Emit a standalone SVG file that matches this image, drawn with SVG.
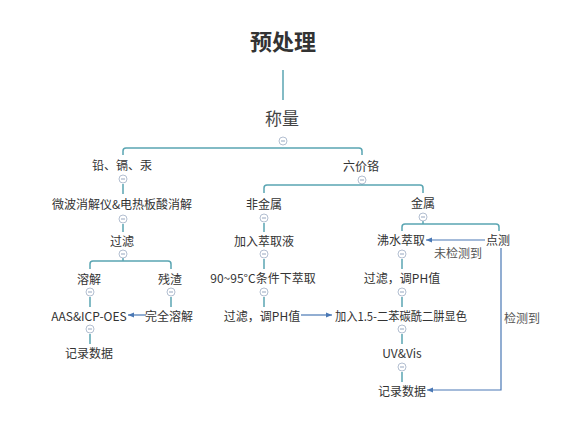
<svg xmlns="http://www.w3.org/2000/svg" width="576" height="435" viewBox="0 0 576 435">
<defs>
<marker id="ah" viewBox="0 0 10 10" refX="10" refY="5" markerWidth="8" markerHeight="6" orient="auto" markerUnits="userSpaceOnUse">
<path d="M0,1 L10,5 L0,9 Z" fill="#4a78b5"/>
</marker>
<g id="col"><circle r="4" fill="#fff" stroke="#aab8cc" stroke-width="0.9"/><line x1="-2" y1="0" x2="2" y2="0" stroke="#8a9cb8" stroke-width="0.9"/></g>
</defs>
<style>
text{font-family:"Noto Sans CJK SC","Liberation Sans",sans-serif;fill:#333;text-anchor:middle;dominant-baseline:central}
.n{font-size:12px}
.t{font-size:22px;font-weight:bold}
.w{font-size:17px;fill:#444}
.lab{font-size:12px;fill:#555}
.tl{fill:none;stroke:#5aa5b2;stroke-width:1.5}
.ar{fill:none;stroke:#4a78b5;stroke-width:1.2;marker-end:url(#ah)}
</style>
<rect width="576" height="435" fill="#fff"/>
<g id="connectors">
<path class="tl" d="M283,70 V100" stroke-width="1.2"/>
<path class="tl" d="M123,155 V151 Q123,148 126,148 H359 Q362,148 362,151 V155"/>
<path class="tl" d="M123,184 V194"/>
<path class="tl" d="M123,224 V232"/>
<path class="tl" d="M123,258 V261 M90,269 V264 Q90,261 93,261 H168 Q171,261 171,264 V269"/>
<path class="tl" d="M90,297 V307"/>
<path class="tl" d="M171,297 V307"/>
<path class="tl" d="M90,334 V344"/>
<path class="tl" d="M362,184 V185 M264,193 V188 Q264,185 267,185 H420 Q423,185 423,188 V193"/>
<path class="tl" d="M264,223 V232"/>
<path class="tl" d="M264,259 V269"/>
<path class="tl" d="M264,297 V307"/>
<path class="tl" d="M423,221 V224 M402,231 V227 Q402,224 405,224 H496 Q499,224 499,227 V231"/>
<path class="tl" d="M402,259 V269"/>
<path class="tl" d="M402,297 V307"/>
<path class="tl" d="M402,334 V344"/>
<path class="tl" d="M402,372 V382"/>
<path class="ar" d="M146,315 H128"/>
<path class="ar" d="M301,315 H332"/>
<path class="ar" d="M485,240 H426"/>
<path class="ar" d="M501,248 V390 H427"/>
<text class="lab" x="458" y="252">未检测到</text>
<text class="lab" x="522" y="317">检测到</text>
</g>
<g id="n-title"><text class="t" x="283" y="40">预处理</text></g>
<g id="n-weigh"><text class="w" x="282" y="117">称量</text><use href="#col" x="283" y="141"/></g>
<g id="n-pb"><text class="n" x="122" y="164">铅、镉、汞</text><use href="#col" x="123" y="179"/></g>
<g id="n-mw"><text class="n" x="122" y="203">微波消解仪&amp;电热板酸消解</text><use href="#col" x="123" y="219"/></g>
<g id="n-filter1"><text class="n" x="122" y="240">过滤</text><use href="#col" x="123" y="254"/></g>
<g id="n-dissolve"><text class="n" x="89" y="278">溶解</text><use href="#col" x="90" y="292"/></g>
<g id="n-residue"><text class="n" x="170" y="278">残渣</text><use href="#col" x="171" y="292"/></g>
<g id="n-aas"><text class="n" x="89" y="315">AAS&amp;ICP-OES</text><use href="#col" x="90" y="329"/></g>
<g id="n-full"><text class="n" x="169" y="315">完全溶解</text></g>
<g id="n-rec1"><text class="n" x="89" y="352">记录数据</text></g>
<g id="n-cr"><text class="n" x="361" y="165">六价铬</text><use href="#col" x="362" y="180"/></g>
<g id="n-nonmetal"><text class="n" x="264" y="203">非金属</text><use href="#col" x="264" y="218"/></g>
<g id="n-add"><text class="n" x="264" y="240">加入萃取液</text><use href="#col" x="264" y="254"/></g>
<g id="n-90"><text class="n" x="263" y="277">90~95°C条件下萃取</text><use href="#col" x="264" y="292"/></g>
<g id="n-ph1"><text class="n" x="262" y="315">过滤，调PH值</text></g>
<g id="n-metal"><text class="n" x="423" y="202">金属</text><use href="#col" x="423" y="217"/></g>
<g id="n-boil"><text class="n" x="401" y="239">沸水萃取</text><use href="#col" x="402" y="254"/></g>
<g id="n-spot"><text class="n" x="498" y="239">点测</text></g>
<g id="n-ph2"><text class="n" x="402" y="277">过滤，调PH值</text><use href="#col" x="402" y="292"/></g>
<g id="n-color"><text class="n" x="401" y="315" textLength="132" lengthAdjust="spacingAndGlyphs">加入1.5-二苯碳酰二肼显色</text><use href="#col" x="402" y="329"/></g>
<g id="n-uv"><text class="n" x="402" y="352">UV&amp;Vis</text><use href="#col" x="402" y="367"/></g>
<g id="n-rec2"><text class="n" x="402" y="390">记录数据</text></g>
</svg>
